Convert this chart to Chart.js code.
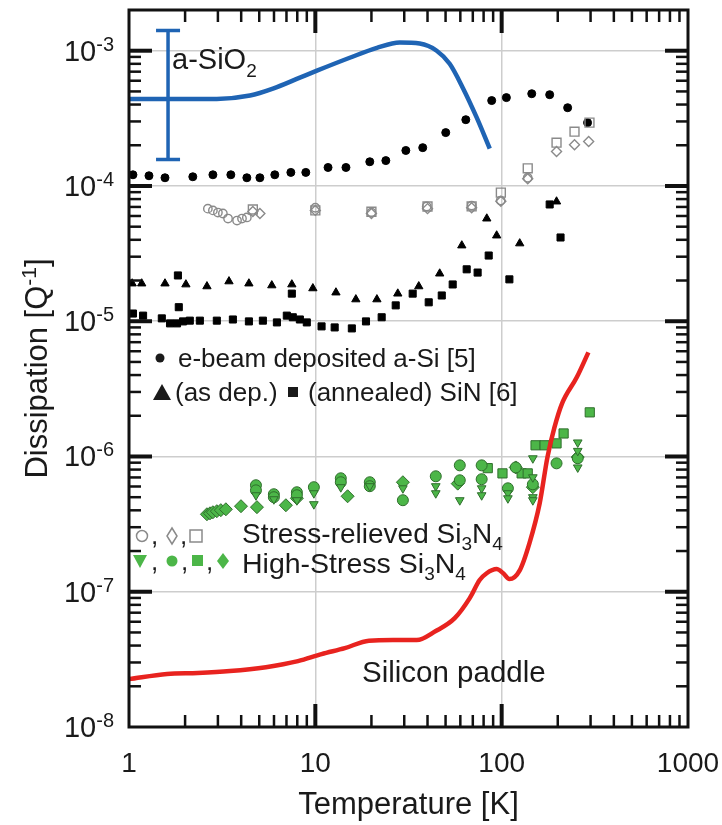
<!DOCTYPE html>
<html><head><meta charset="utf-8">
<script src="https://cdn.jsdelivr.net/npm/chart.js@4.4.1/dist/chart.umd.min.js"></script>
<style>html,body{margin:0;padding:0;background:#fff;}#wrap{width:722px;height:825px;}</style>
</head><body><div id="wrap"><canvas id="c" width="722" height="825"></canvas></div>
<script>
// ---------- data ----------
const xTickValues = [1, 10, 100, 1000];
const yTickValues = [1e-8, 1e-7, 1e-6, 1e-5, 1e-4, 1e-3];
const yTickExponents = ['-8', '-7', '-6', '-5', '-4', '-3'];

const sio2T = [1, 1.6, 2.96, 4.46, 5.92, 8.26, 10.2, 15.3, 21.4, 28.4, 36.3, 44.8, 52.6, 61.8, 73.5, 86.3];
const sio2Q = [4.4e-4, 4.4e-4, 4.4e-4, 4.66e-4, 5.24e-4, 6.32e-4, 7.12e-4, 8.87e-4, 1.05e-3, 1.15e-3, 1.13e-3, 1.0e-3, 8.0e-4, 5.33e-4, 3.2e-4, 1.89e-4];
const sio2ErrT = [1.62];
const sio2ErrLow = [1.57e-4];
const sio2ErrHigh = [1.41e-3];

const aSiT = [1.05, 1.28, 1.56, 2.20, 2.82, 3.52, 4.29, 5.04, 6.06, 7.39, 8.89, 11.7, 14.6, 19.6, 23.9, 30.6, 37.7, 50.1, 64.2, 88.4, 106, 145, 181, 226, 289];
const aSiQ = [1.21e-4, 1.19e-4, 1.15e-4, 1.17e-4, 1.21e-4, 1.21e-4, 1.15e-4, 1.15e-4, 1.21e-4, 1.26e-4, 1.26e-4, 1.37e-4, 1.37e-4, 1.51e-4, 1.54e-4, 1.83e-4, 1.92e-4, 2.48e-4, 3.09e-4, 4.28e-4, 4.50e-4, 4.81e-4, 4.73e-4, 3.79e-4, 2.94e-4];

const sinDepT = [1.04, 1.17, 1.56, 2.02, 2.62, 3.44, 4.40, 5.84, 7.48, 9.70, 12.9, 16.5, 21.4, 27.7, 35.9, 46.5, 61.1, 83.2, 94.0, 125, 197];
const sinDepQ = [1.90e-5, 1.90e-5, 1.90e-5, 1.87e-5, 1.81e-5, 1.97e-5, 1.90e-5, 1.84e-5, 1.87e-5, 1.75e-5, 1.63e-5, 1.45e-5, 1.45e-5, 1.60e-5, 1.81e-5, 2.25e-5, 3.63e-5, 5.74e-5, 4.30e-5, 3.76e-5, 7.67e-5];

const sinAnnT = [1.05, 1.19, 1.50, 1.66, 1.81, 1.83, 1.85, 1.95, 2.12, 2.40, 2.96, 3.61, 4.40, 5.23, 6.22, 7.03, 7.48, 7.57, 8.26, 9.0, 10.8, 12.7, 15.7, 18.7, 22.7, 27.0, 33.3, 40.6, 47.7, 54.6, 64.9, 74.3, 85.2, 110, 181, 207];
const sinAnnQ = [1.14e-5, 1.10e-5, 1.05e-5, 9.64e-6, 9.64e-6, 2.18e-5, 1.27e-5, 9.97e-6, 1.01e-5, 1.01e-5, 1.01e-5, 1.03e-5, 9.97e-6, 1.01e-5, 9.80e-6, 1.10e-5, 1.60e-5, 1.07e-5, 1.03e-5, 9.80e-6, 9.16e-6, 9.0e-6, 8.85e-6, 9.97e-6, 1.07e-5, 1.31e-5, 1.60e-5, 1.38e-5, 1.55e-5, 1.87e-5, 2.42e-5, 2.29e-5, 3.06e-5, 2.04e-5, 7.3e-5, 4.16e-5];

const srCircT = [2.65, 2.82, 3.0, 3.19, 3.40, 3.80, 4.04, 4.29, 10, 20, 39.6, 69, 98.8, 138];
const srCircQ = [6.8e-5, 6.6e-5, 6.36e-5, 6.26e-5, 5.74e-5, 5.55e-5, 5.74e-5, 5.85e-5, 6.9e-5, 6.36e-5, 7.05e-5, 7.16e-5, 7.8e-5, 1.15e-4];
const srDiaT = [4.62, 5.04, 10, 20, 40, 69, 99, 138, 197, 246, 293];
const srDiaQ = [6.47e-5, 6.26e-5, 6.6e-5, 6.26e-5, 6.8e-5, 6.9e-5, 7.7e-5, 1.13e-4, 1.80e-4, 2.02e-4, 2.13e-4];
const srSqT = [4.62, 10, 20, 40, 69, 99, 138, 197, 246, 296];
const srSqQ = [6.7e-5, 6.6e-5, 6.45e-5, 7.05e-5, 7.06e-5, 8.93e-5, 1.35e-4, 2.09e-4, 2.52e-4, 2.94e-4];

const hsTriT = [4.80, 5.99, 7.96, 9.82, 9.82, 13.7, 19.6, 29.5, 44.3, 44.3, 59.6, 78.1, 78.1, 108, 108, 147, 147, 147, 147, 256, 256, 256];
const hsTriQ = [5.17e-7, 4.83e-7, 4.75e-7, 5.35e-7, 4.44e-7, 5.93e-7, 6.03e-7, 5.82e-7, 6.03e-7, 5.35e-7, 4.75e-7, 5.82e-7, 5.17e-7, 5.35e-7, 4.91e-7, 9.7e-7, 7.02e-7, 5.0e-7, 4.75e-7, 1.27e-6, 1.1e-6, 8.3e-7];
const hsCircT = [4.80, 4.80, 5.99, 5.99, 7.96, 7.96, 9.82, 13.7, 13.7, 19.6, 19.6, 29.5, 44.3, 59.6, 59.6, 78.1, 78.1, 108, 119, 147, 197, 256];
const hsCircQ = [6.13e-7, 5.62e-7, 5.26e-7, 5.0e-7, 5.44e-7, 5.17e-7, 5.93e-7, 6.9e-7, 6.45e-7, 6.45e-7, 6.03e-7, 4.75e-7, 7.14e-7, 8.6e-7, 6.67e-7, 8.6e-7, 6.79e-7, 5.82e-7, 8.3e-7, 6.23e-7, 8.9e-7, 9.7e-7];
const hsSqT = [84.2, 101, 128, 138, 152, 170, 197, 215, 297];
const hsSqQ = [8.2e-7, 7.5e-7, 7.5e-7, 7.5e-7, 1.21e-6, 1.21e-6, 1.25e-6, 1.48e-6, 2.12e-6];
const hsDiaT = [2.62, 2.72, 2.82, 2.96, 3.11, 3.31, 3.99, 4.86, 6.95, 7.96, 14.9, 29.5, 58.1, 119, 147, 256];
const hsDiaQ = [3.74e-7, 3.80e-7, 3.87e-7, 3.94e-7, 4.01e-7, 4.07e-7, 4.29e-7, 4.22e-7, 4.36e-7, 4.91e-7, 5.08e-7, 6.45e-7, 6.3e-7, 8.3e-7, 5.93e-7, 9.9e-7];

const paddleT = [1, 1.6, 2.34, 3.48, 5.43, 8.07, 10.8, 14.4, 19.4, 26.1, 35.0, 44.3, 56.0, 67.4, 76.2, 83.1, 93.9, 102, 110, 125, 141, 160, 176, 192, 211, 253, 292];
const paddleQ = [2.26e-8, 2.47e-8, 2.51e-8, 2.59e-8, 2.77e-8, 3.07e-8, 3.46e-8, 3.83e-8, 4.35e-8, 4.39e-8, 4.39e-8, 5.12e-8, 6.38e-8, 8.97e-8, 1.22e-7, 1.37e-7, 1.47e-7, 1.37e-7, 1.24e-7, 1.44e-7, 2.29e-7, 4.51e-7, 9.86e-7, 1.64e-6, 2.47e-6, 3.85e-6, 5.89e-6];

// ---------- styling ----------
const FAM = '"Liberation Sans", Arial, Helvetica, sans-serif';
const TXT = '#1a1a1a';
const GREEN = '#4cb648';
const GREEN_EDGE = '#2f6e2c';
const GRAYSYM = '#8a8a8a';
const pts = (T, Q) => T.map((t, i) => ({x: t, y: Q[i]}));
const f = s => s + 'px ' + FAM;

function richText(ctx, x, y, segs) {
  let cx = x;
  for (const s of segs) {
    ctx.font = f(s.size);
    ctx.fillText(s.t, cx, y + (s.dy || 0));
    cx += ctx.measureText(s.t).width;
  }
  return cx - x;
}
function richWidth(ctx, segs) {
  let w = 0;
  for (const s of segs) { ctx.font = f(s.size); w += ctx.measureText(s.t).width; }
  return w;
}

const decorPlugin = {
  id: 'decor',
  afterDatasetsDraw(chart) {
    const {ctx, chartArea: a, scales: {x, y}} = chart;
    ctx.save();
    // error bar for a-SiO2
    ctx.strokeStyle = '#1f64b4';
    ctx.lineWidth = 3.5;
    sio2ErrT.forEach((t, i) => {
      const px = x.getPixelForValue(t);
      const p1 = y.getPixelForValue(sio2ErrHigh[i]);
      const p2 = y.getPixelForValue(sio2ErrLow[i]);
      ctx.beginPath();
      ctx.moveTo(px, p1); ctx.lineTo(px, p2);
      ctx.moveTo(px - 12, p1); ctx.lineTo(px + 12, p1);
      ctx.moveTo(px - 12, p2); ctx.lineTo(px + 12, p2);
      ctx.stroke();
    });
    // frame
    ctx.strokeStyle = '#111';
    ctx.lineWidth = 3;
    ctx.strokeRect(a.left, a.top, a.right - a.left, a.bottom - a.top);
    // inner ticks
    const tick = (x1, y1, x2, y2, w) => { ctx.lineWidth = w; ctx.beginPath(); ctx.moveTo(x1, y1); ctx.lineTo(x2, y2); ctx.stroke(); };
    for (let d = 0; d <= 2; d++) {
      for (let k = 1; k <= 9; k++) {
        const v = k * Math.pow(10, d);
        if (v <= 1) continue;
        const px = x.getPixelForValue(v);
        const L = k === 1 ? 23 : 12, w = k === 1 ? 4 : 2.5;
        tick(px, a.bottom, px, a.bottom - L, w);
        tick(px, a.top, px, a.top + L, w);
      }
    }
    for (let d = -8; d <= -3; d++) {
      for (let k = 1; k <= 9; k++) {
        const v = k * Math.pow(10, d);
        if (v <= 1e-8 || v >= 2e-3) continue;
        const py = y.getPixelForValue(v);
        const L = k === 1 ? 23 : 12, w = k === 1 ? 4 : 2.5;
        tick(a.left, py, a.left + L, py, w);
        tick(a.right, py, a.right - L, py, w);
      }
    }
    ctx.restore();
  },
  afterDraw(chart) {
    const {ctx, chartArea: a, scales: {y}} = chart;
    ctx.save();
    ctx.fillStyle = TXT;
    ctx.textBaseline = 'alphabetic';
    ctx.textAlign = 'left';
    // y tick labels with superscript
    yTickValues.forEach((v, i) => {
      const py = y.getPixelForValue(v);
      const segs = [{t: '10', size: 29}, {t: yTickExponents[i], size: 20, dy: -10}];
      const w = richWidth(ctx, segs);
      richText(ctx, a.left - 15 - w, py + 10, segs);
    });
    // y axis title
    ctx.save();
    ctx.translate(36, (a.top + a.bottom) / 2);
    ctx.rotate(-Math.PI / 2);
    const ts = [{t: 'Dissipation [Q', size: 31}, {t: '-1', size: 21, dy: -11}, {t: ']', size: 31}];
    const tw = richWidth(ctx, ts);
    richText(ctx, -tw / 2, 11, ts);
    ctx.restore();

    // a-SiO2 label
    richText(ctx, 172, 69, [{t: 'a-SiO', size: 29}, {t: '2', size: 19, dy: 8}]);

    // legend row 1
    ctx.beginPath(); ctx.arc(160, 358, 4.5, 0, Math.PI * 2); ctx.fill();
    ctx.font = f(26); ctx.fillText('e-beam deposited a-Si [5]', 178, 367);
    // legend row 2
    ctx.beginPath(); ctx.moveTo(153, 400); ctx.lineTo(171, 400); ctx.lineTo(162, 384); ctx.closePath(); ctx.fill();
    ctx.fillText('(as dep.)', 175, 401);
    ctx.fillRect(288, 387, 10, 10);
    ctx.fillText('(annealed) SiN [6]', 308, 401);

    // stress relieved legend
    ctx.strokeStyle = GRAYSYM; ctx.lineWidth = 1.5;
    ctx.beginPath(); ctx.arc(142, 536, 5.5, 0, Math.PI * 2); ctx.stroke();
    ctx.beginPath(); ctx.moveTo(172, 528); ctx.lineTo(177, 536); ctx.lineTo(172, 544); ctx.lineTo(167, 536); ctx.closePath(); ctx.stroke();
    ctx.strokeRect(190, 530, 12, 12);
    ctx.font = f(26);
    ctx.fillText(',', 151, 544); ctx.fillText(',', 180, 544);
    richText(ctx, 242, 543, [{t: 'Stress-relieved Si', size: 28}, {t: '3', size: 19, dy: 7}, {t: 'N', size: 28}, {t: '4', size: 19, dy: 7}]);

    // high stress legend
    ctx.fillStyle = GREEN;
    ctx.beginPath(); ctx.moveTo(133, 555); ctx.lineTo(147, 555); ctx.lineTo(140, 568); ctx.closePath(); ctx.fill();
    ctx.beginPath(); ctx.arc(172, 561, 5.5, 0, Math.PI * 2); ctx.fill();
    ctx.fillRect(192, 555, 11, 11);
    ctx.beginPath(); ctx.moveTo(223, 553); ctx.lineTo(229, 561); ctx.lineTo(223, 569); ctx.lineTo(217, 561); ctx.closePath(); ctx.fill();
    ctx.fillStyle = TXT;
    ctx.font = f(26);
    ctx.fillText(',', 151, 570); ctx.fillText(',', 181, 570); ctx.fillText(',', 206, 570);
    richText(ctx, 242, 573, [{t: 'High-Stress Si', size: 28.5}, {t: '3', size: 19, dy: 7}, {t: 'N', size: 28.5}, {t: '4', size: 19, dy: 7}]);

    // silicon paddle label
    ctx.font = f(29.5);
    ctx.fillText('Silicon paddle', 362, 682);
    ctx.restore();
  }
};

const markerBase = {showLine: false, borderWidth: 1};
const datasets = [
  {label: 'Silicon paddle', data: pts(paddleT, paddleQ), showLine: true, borderColor: '#e8231f', borderWidth: 4.5, pointRadius: 0, cubicInterpolationMode: 'monotone', order: 1},
  {label: 'a-SiO2', data: pts(sio2T, sio2Q), showLine: true, borderColor: '#1f64b4', borderWidth: 4.5, pointRadius: 0, cubicInterpolationMode: 'monotone', order: 1},
  {label: 'e-beam a-Si', data: pts(aSiT, aSiQ), ...markerBase, pointStyle: 'circle', pointRadius: 4, backgroundColor: '#000', borderColor: '#000', order: 3},
  {label: 'SiN as dep.', data: pts(sinDepT, sinDepQ), ...markerBase, pointStyle: 'triangle', pointRadius: 4.8, backgroundColor: '#000', borderColor: '#000', order: 3},
  {label: 'SiN annealed', data: pts(sinAnnT, sinAnnQ), ...markerBase, pointStyle: 'rect', pointRadius: 5, backgroundColor: '#000', borderColor: '#000', order: 3},
  {label: 'SR circle', data: pts(srCircT, srCircQ), ...markerBase, pointStyle: 'circle', pointRadius: 4.2, backgroundColor: 'rgba(255,255,255,0)', borderColor: GRAYSYM, borderWidth: 1.4, order: 2},
  {label: 'SR diamond', data: pts(srDiaT, srDiaQ), ...markerBase, pointStyle: 'rectRot', pointRadius: 5, backgroundColor: 'rgba(255,255,255,0)', borderColor: GRAYSYM, borderWidth: 1.4, order: 2},
  {label: 'SR square', data: pts(srSqT, srSqQ), ...markerBase, pointStyle: 'rect', pointRadius: 6.3, backgroundColor: 'rgba(255,255,255,0)', borderColor: GRAYSYM, borderWidth: 1.4, order: 2},
  {label: 'HS triangle', data: pts(hsTriT, hsTriQ), ...markerBase, pointStyle: 'triangle', rotation: 180, pointRadius: 5, backgroundColor: GREEN, borderColor: GREEN_EDGE, order: 4},
  {label: 'HS circle', data: pts(hsCircT, hsCircQ), ...markerBase, pointStyle: 'circle', pointRadius: 5.5, backgroundColor: GREEN, borderColor: GREEN_EDGE, order: 4},
  {label: 'HS square', data: pts(hsSqT, hsSqQ), ...markerBase, pointStyle: 'rect', pointRadius: 6.5, backgroundColor: GREEN, borderColor: GREEN_EDGE, order: 4},
  {label: 'HS diamond', data: pts(hsDiaT, hsDiaQ), ...markerBase, pointStyle: 'rectRot', pointRadius: 6.5, backgroundColor: GREEN, borderColor: GREEN_EDGE, order: 4}
];

new Chart(document.getElementById('c'), {
  type: 'scatter',
  data: {datasets},
  options: {
    responsive: false,
    animation: false,
    events: [],
    layout: {padding: {left: 0, top: 10, right: 34, bottom: 0}},
    plugins: {legend: {display: false}, tooltip: {enabled: false}},
    scales: {
      x: {
        type: 'logarithmic', position: 'bottom', min: 1, max: 1000,
        afterBuildTicks: s => { s.ticks = xTickValues.map(v => ({value: v})); },
        afterFit: s => { s.height = 98; s.paddingLeft = 0; s.paddingRight = 0; },
        grid: {color: '#cdcdcd', lineWidth: 1.5, drawTicks: false},
        border: {display: false},
        ticks: {font: {family: FAM, size: 28}, color: TXT, padding: 20, maxRotation: 0, autoSkip: false, callback: v => String(v)},
        title: {display: true, text: 'Temperature [K]', font: {family: FAM, size: 31}, color: TXT, padding: {top: 0, bottom: 1}}
      },
      y: {
        type: 'logarithmic', position: 'left', min: 1e-8, max: 2e-3,
        afterBuildTicks: s => { s.ticks = yTickValues.map(v => ({value: v})); },
        afterFit: s => { s.width = 129; s.paddingTop = 0; s.paddingBottom = 0; },
        grid: {color: '#cdcdcd', lineWidth: 1.5, drawTicks: false},
        border: {display: false},
        ticks: {display: false},
        title: {display: false}
      }
    }
  },
  plugins: [decorPlugin]
});
</script></body></html>
